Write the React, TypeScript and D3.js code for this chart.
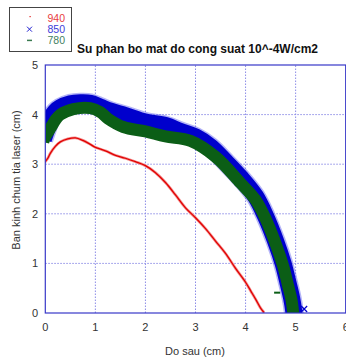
import * as d3 from 'd3';

// series 940 (red, dots)
const redX = [0, 0.05, 0.1, 0.2, 0.3, 0.45, 0.6, 0.75, 0.9, 1.0, 1.2, 1.4, 1.6, 1.8, 2.0, 2.2, 2.4, 2.6, 2.8, 3.0, 3.2, 3.4, 3.6, 3.8, 4.0, 4.1, 4.2, 4.3, 4.36];
const redY = [3.05, 3.12, 3.22, 3.36, 3.45, 3.51, 3.53, 3.48, 3.4, 3.34, 3.27, 3.18, 3.12, 3.05, 2.97, 2.83, 2.63, 2.38, 2.12, 1.92, 1.7, 1.45, 1.2, 0.9, 0.62, 0.45, 0.28, 0.1, 0.02];

// series 850 (blue, x) – centre of the band
const blueX = [-0.04, 0, 0.1, 0.2, 0.3, 0.5, 0.7, 0.9, 1.1, 1.3, 1.6, 2.0, 2.4, 2.7, 3.0, 3.3, 3.6, 3.9, 4.2, 4.4, 4.6, 4.75, 4.85, 4.92, 4.96, 4.97];
const blueY = [3.5, 3.62, 3.9, 4.06, 4.14, 4.22, 4.24, 4.23, 4.15, 4.07, 3.98, 3.85, 3.78, 3.66, 3.55, 3.35, 3.05, 2.73, 2.35, 1.95, 1.45, 1.0, 0.6, 0.3, 0.05, -0.1];

// series 780 (green, -) – centre of the band
const greenX = [-0.04, 0, 0.1, 0.2, 0.3, 0.56, 0.9, 1.1, 1.25, 1.56, 2.0, 2.4, 2.9, 3.4, 3.9, 4.2, 4.4, 4.6, 4.75, 4.85, 4.92, 4.95, 4.96];
const greenY = [3.45, 3.56, 3.72, 3.89, 4.0, 4.11, 4.13, 4.05, 3.92, 3.75, 3.66, 3.56, 3.47, 3.15, 2.62, 2.28, 1.9, 1.4, 0.95, 0.55, 0.25, 0.02, -0.1];

// stray markers
const strayBlue = [[5.17, 0.08]];
const strayGreen = [[4.63, 0.41]];

const xTicks = [0, 1, 2, 3, 4, 5, 6];
const yTicks = [0, 1, 2, 3, 4, 5];

const legend = [
  { label: '940', color: '#e01818', text: '#e83c3c', kind: 'dot' },
  { label: '850', color: '#2020d0', text: '#3c3cd8', kind: 'x' },
  { label: '780', color: '#3a7a50', text: '#3f7f5f', kind: 'dash' },
];

export default function App() {
  const x = d3.scaleLinear().domain([0, 6]).range([45.3, 345.7]);
  const y = d3.scaleLinear().domain([0, 5]).range([313, 65]);
  const lineC = d3.line<[number, number]>().curve(d3.curveCatmullRom.alpha(0.5));

  const redPts: [number, number][] = redX.map((v, i) => [x(v), y(redY[i])]);
  const bluePts: [number, number][] = blueX.map((v, i) => [x(v), y(blueY[i])]);
  const greenPts: [number, number][] = greenX.map((v, i) => [x(v), y(greenY[i])]);

  const font = 'Liberation Sans, Arial, sans-serif';
  const [x0, x1] = x.range();
  const [y0, y1] = y.range();

  return (
    <svg width={346} height={360} style={{ position: 'absolute', left: 0, top: 0, background: '#fff' }} fontFamily={font}>
      <defs>
        <clipPath id="plot">
          <rect x={x0} y={y1} width={x1 - x0} height={y0 - y1} />
        </clipPath>
      </defs>
      {/* grid */}
      <g stroke="#8c8ce6" strokeDasharray="1.5,1.5" strokeWidth={1}>
        {xTicks.slice(1, -1).map(t => (
          <line key={'gx' + t} x1={x(t)} x2={x(t)} y1={y0} y2={y1} />
        ))}
        {yTicks.slice(1, -1).map(t => (
          <line key={'gy' + t} x1={x0} x2={x1} y1={y(t)} y2={y(t)} />
        ))}
      </g>

      <g clipPath="url(#plot)">
        {/* blue band */}
        <path d={lineC(bluePts) || ''} fill="none" stroke="#6a6af2" strokeOpacity={0.5} strokeWidth={20} />
        <path d={lineC(bluePts) || ''} fill="none" stroke="#0000cc" strokeWidth={17} />

        {/* green band */}
        <path d={lineC(greenPts) || ''} fill="none" stroke="#0b5e16" strokeWidth={12} />

        {/* red */}
        <path d={lineC(redPts) || ''} fill="none" stroke="#f49090" strokeWidth={2.8} strokeLinecap="round" />
        <path d={lineC(redPts) || ''} fill="none" stroke="#e00000" strokeWidth={1.3} strokeLinecap="round" />
      </g>
      {strayBlue.map((p, i) => (
        <path key={'sb' + i} d={`M${x(p[0]) - 3},${y(p[1]) - 3}l6,6m0,-6l-6,6`} stroke="#0000cc" strokeWidth={1.2} />
      ))}
      {strayGreen.map((p, i) => (
        <path key={'sg' + i} d={`M${x(p[0]) - 3},${y(p[1])}h6`} stroke="#0b5e16" strokeWidth={2} />
      ))}

      {/* frame */}
      <g stroke="#3838c8" strokeWidth={1.2} fill="none">
        <rect x={x0} y={y1} width={x1 - x0} height={y0 - y1} />
      </g>

      {/* tick labels */}
      <g fontSize={11} fill="#333">
        {xTicks.map(t => (
          <text key={'tx' + t} x={x(t)} y={331} textAnchor="middle">{t}</text>
        ))}
        {yTicks.map(t => (
          <text key={'ty' + t} x={38} y={y(t) + 4} textAnchor="end">{t}</text>
        ))}
      </g>

      {/* axis titles */}
      <text x={195} y={355} textAnchor="middle" fontSize={11} fill="#333">Do sau (cm)</text>
      <text transform="translate(20,180) rotate(-90)" textAnchor="middle" fontSize={11} fill="#333">Ban kinh chum tia laser (cm)</text>

      {/* title */}
      <text x={77} y={53} fontSize={12} fontWeight="bold" fill="#111">Su phan bo mat do cong suat 10^-4W/cm2</text>

      {/* legend */}
      <rect x={9.5} y={7.5} width={62} height={44} fill="#fff" stroke="#444" strokeWidth={1} />
      {legend.map((l, i) => {
        const cy = 18 + i * 11.2;
        return (
          <g key={l.label}>
            {l.kind === 'dot' && <rect x={29.5} y={cy - 2} width={1.2} height={1.2} fill={l.color} />}
            {l.kind === 'x' && <path d={`M${27},${cy - 2.5}l5,5m0,-5l-5,5`} stroke={l.color} strokeWidth={1} />}
            {l.kind === 'dash' && <path d={`M${27},${cy}h5`} stroke={l.color} strokeWidth={1.5} />}
            <text x={65} y={cy + 4} textAnchor="end" fontSize={10.5} fill={l.text}>{l.label}</text>
          </g>
        );
      })}
    </svg>
  );
}
